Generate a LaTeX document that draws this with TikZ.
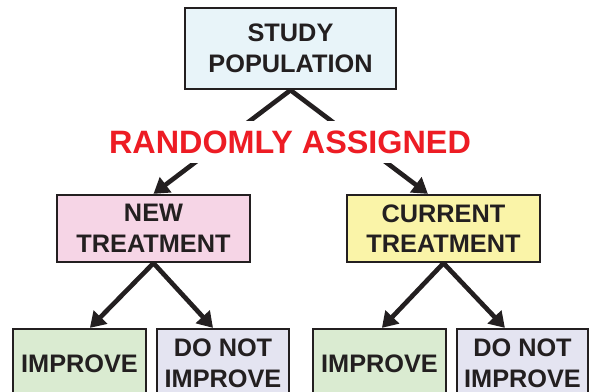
\documentclass[tikz,border=0pt]{standalone}
\usepackage{fontspec}
\setmainfont{Liberation Sans}
\usetikzlibrary{arrows.meta}

\definecolor{boxline}{HTML}{231F20}
\definecolor{randred}{HTML}{ED1C24}
\definecolor{studyfill}{HTML}{E8F4F9}
\definecolor{newfill}{HTML}{F6D5E6}
\definecolor{curfill}{HTML}{FAF4A8}
\definecolor{impfill}{HTML}{DAEBD1}
\definecolor{notfill}{HTML}{E4E4F1}

\begin{document}
\begin{tikzpicture}[x=0.025cm,y=-0.025cm,
  box/.style={draw=boxline, line width=1.6pt, inner sep=0pt, align=center,
    text=boxline, font=\fontsize{18}{21.8}\selectfont\bfseries},
  arr/.style={draw=boxline, line width=3.3pt,
    -{Triangle[length=0.38cm,width=0.46cm]}}]
  % Marc de la figura
  \useasboundingbox (0,0) rectangle (589,391);
  \clip (0,0) rectangle (589,391);
  % Caixes
  \node[box, fill=studyfill, minimum width=5.275cm, minimum height=2.025cm]
    (study) at (290.5,48.5) {STUDY\\POPULATION};
  \node[box, fill=newfill, minimum width=4.825cm, minimum height=1.675cm]
    (newtx) at (153.5,228.5) {NEW\\TREATMENT};
  \node[box, fill=curfill, minimum width=4.825cm, minimum height=1.675cm]
    (curtx) at (443.5,228.5) {CURRENT\\TREATMENT};
  \node[box, fill=impfill, minimum width=3.325cm, minimum height=1.725cm]
    (impa) at (79.5,363.5) {IMPROVE};
  \node[box, fill=notfill, minimum width=3.3cm, minimum height=1.725cm]
    (nota) at (223,363.5) {DO NOT\\IMPROVE};
  \node[box, fill=impfill, minimum width=3.325cm, minimum height=1.725cm]
    (impb) at (379.5,363.5) {IMPROVE};
  \node[box, fill=notfill, minimum width=3.275cm, minimum height=1.725cm]
    (notb) at (522.5,363.5) {DO NOT\\IMPROVE};
  % Fletxes
  \draw[arr] (study.south) -- (newtx.north);
  \draw[arr] (study.south) -- ([xshift=-0.39cm]curtx.north);
  \draw[arr] (newtx.south) -- ([xshift=0.26cm]impa.north);
  \draw[arr] (newtx.south) -- ([xshift=-0.25cm]nota.north);
  \draw[arr] (curtx.south) -- ([xshift=0.06cm]impb.north);
  \draw[arr] (curtx.south) -- ([xshift=-0.44cm]notb.north);
  % Etiqueta sobre les fletxes
  \node[fill=white, text=randred, inner xsep=2pt, minimum height=1.05cm,
    font=\fontsize{23}{23}\selectfont\bfseries]
    (rand) at (290,142) {RANDOMLY ASSIGNED};
\end{tikzpicture}
\end{document}
